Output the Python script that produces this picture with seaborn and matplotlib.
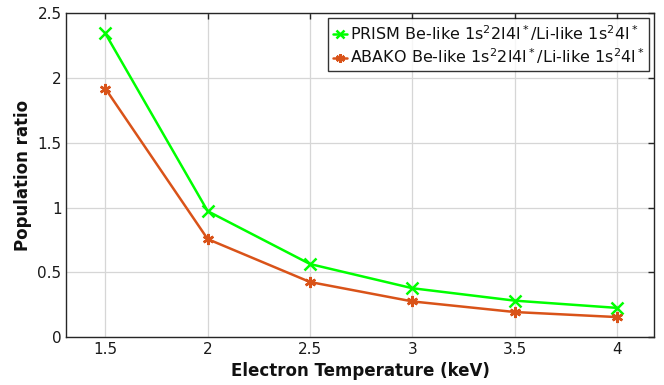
import numpy as np
import pandas as pd
import seaborn as sns
import matplotlib.pyplot as plt

# data
temperature = [1.5, 2.0, 2.5, 3.0, 3.5, 4.0]
prism_ratio = [2.346, 0.972, 0.563, 0.376, 0.280, 0.224]
abako_ratio = [1.920, 0.756, 0.424, 0.274, 0.192, 0.153]
prism_label = r"PRISM Be-like 1s$^2$2l4l$^*$/Li-like 1s$^2$4l$^*$"
abako_label = r"ABAKO Be-like 1s$^2$2l4l$^*$/Li-like 1s$^2$4l$^*$"

df = pd.DataFrame({
    "Te": temperature * 2,
    "ratio": prism_ratio + abako_ratio,
    "model": [prism_label] * 6 + [abako_label] * 6,
})

sns.set_style("white")
plt.rcParams["font.family"] = ["DejaVu Sans"]
plt.rcParams["mathtext.default"] = "regular"

fig, ax = plt.subplots(figsize=(6.64, 3.85), dpi=100)
sns.lineplot(data=df, x="Te", y="ratio", hue="model", style="model",
             markers={prism_label: "x", abako_label: (6, 2, 0)},
             dashes=False, palette=["#00ff00", "#d95319"],
             linewidth=1.8, markersize=8, markeredgewidth=1.8, ax=ax)
for ln in ax.lines:
    ln.set_markeredgecolor(ln.get_color())
    ln.set_markerfacecolor(ln.get_color())

ax.set_xlim(1.31, 4.18)
ax.set_ylim(0, 2.5)
ax.set_xticks(temperature)
ax.set_xticklabels(["1.5", "2", "2.5", "3", "3.5", "4"])
ax.set_yticks([0, 0.5, 1, 1.5, 2, 2.5])
ax.set_yticklabels(["0", "0.5", "1", "1.5", "2", "2.5"])
ax.grid(True, color="#d6d6d6", linewidth=0.9)
ax.tick_params(direction="in", top=True, right=True, length=4,
               labelsize=11, color="#262626", labelcolor="#1a1a1a", width=1)
for s in ax.spines.values():
    s.set_color("#262626")
    s.set_linewidth(1)

ax.set_xlabel("Electron Temperature (keV)", fontsize=12, fontweight="bold", color="#111111")
ax.set_ylabel("Population ratio", fontsize=12, fontweight="bold", color="#111111")

leg = ax.legend(loc="upper right", fontsize=11.5, frameon=True, fancybox=False,
                handlelength=0.9, handletextpad=0.15, borderpad=0.3,
                labelspacing=0.25, borderaxespad=0.3, markerscale=0.8)
leg.get_frame().set_edgecolor("black")
leg.get_frame().set_linewidth(1)
for h in leg.legend_handles:
    h.set_markeredgecolor(h.get_color())
    h.set_markerfacecolor(h.get_color())
for t in leg.get_texts():
    t.set_color("#111111")

plt.subplots_adjust(left=0.1, right=0.985, top=0.965, bottom=0.125)
plt.savefig("out.png", dpi=100)
